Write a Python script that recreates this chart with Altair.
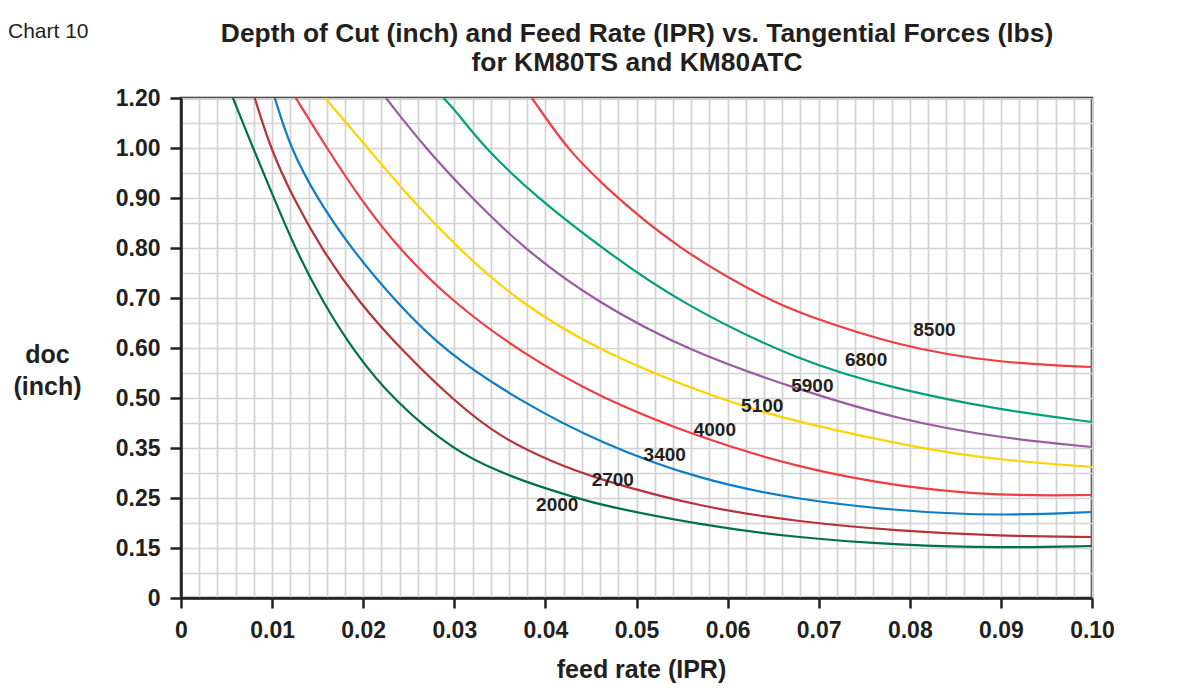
import altair as alt
import pandas as pd

# ---------------- data ----------------
doc_ticks = [0, 0.15, 0.25, 0.35, 0.50, 0.60, 0.70, 0.80, 0.90, 1.00, 1.20]
feed_ticks = [0, 0.01, 0.02, 0.03, 0.04, 0.05, 0.06, 0.07, 0.08, 0.09, 0.10]

forces = ["2000", "2700", "3400", "4000", "5100", "5900", "6800", "8500"]
colors = ["#006F4E", "#B7313A", "#0B7DC9", "#EF3E42", "#FFD200", "#9B59A6", "#00A07C", "#EF3E42"]

f2000_x = [0.0057, 0.0079, 0.0102, 0.0126, 0.0155, 0.0190, 0.0235, 0.0300, 0.0350, 0.0391, 0.0435, 0.0460, 0.0570, 0.0679, 0.0789, 0.0899, 0.1000]
f2000_y = [1.20, 1.00, 0.90, 0.796, 0.694, 0.592, 0.488, 0.344, 0.302, 0.274, 0.250, 0.236, 0.196, 0.170, 0.156, 0.150, 0.154]

f2700_x = [0.0081, 0.0098, 0.0123, 0.0155, 0.0194, 0.0244, 0.0301, 0.0350, 0.0405, 0.0460, 0.0570, 0.0679, 0.0789, 0.0899, 0.1000]
f2700_y = [1.20, 1.00, 0.90, 0.796, 0.694, 0.592, 0.488, 0.383, 0.324, 0.286, 0.232, 0.202, 0.184, 0.174, 0.172]

f3400_x = [0.0103, 0.0120, 0.0149, 0.0188, 0.0235, 0.0290, 0.0372, 0.0460, 0.0570, 0.0679, 0.0789, 0.0899, 0.1000]
f3400_y = [1.20, 1.00, 0.90, 0.796, 0.694, 0.592, 0.491, 0.365, 0.286, 0.246, 0.224, 0.214, 0.222]

f4000_x = [0.0126, 0.0160, 0.0196, 0.0240, 0.0297, 0.0372, 0.0460, 0.0570, 0.0679, 0.0789, 0.0899, 0.1000]
f4000_y = [1.20, 1.00, 0.90, 0.796, 0.694, 0.592, 0.500, 0.380, 0.310, 0.272, 0.254, 0.256]

f5100_x = [0.0158, 0.0205, 0.0251, 0.0306, 0.0369, 0.0460, 0.0592, 0.0679, 0.0819, 0.0899, 0.1000]
f5100_y = [1.20, 1.00, 0.90, 0.796, 0.694, 0.592, 0.494, 0.425, 0.346, 0.326, 0.312]

f5900_x = [0.0225, 0.0268, 0.0319, 0.0378, 0.0454, 0.0559, 0.0679, 0.0789, 0.0899, 0.1000]
f5900_y = [1.20, 1.00, 0.90, 0.796, 0.694, 0.592, 0.516, 0.434, 0.380, 0.353]

f6800_x = [0.0288, 0.0301, 0.0333, 0.0391, 0.0465, 0.0544, 0.0679, 0.0789, 0.0899, 0.1000]
f6800_y = [1.20, 1.152, 1.00, 0.90, 0.796, 0.694, 0.572, 0.516, 0.464, 0.428]

f8500_x = [0.0385, 0.0402, 0.0424, 0.0460, 0.0546, 0.0647, 0.0679, 0.0789, 0.0899, 0.1000]
f8500_y = [1.20, 1.112, 1.00, 0.93, 0.796, 0.694, 0.670, 0.602, 0.570, 0.562]

label_x = [0.0413, 0.0474, 0.0531, 0.0586, 0.0638, 0.0693, 0.0752, 0.0827]
label_y = [0.236, 0.286, 0.336, 0.404, 0.476, 0.524, 0.576, 0.636]

title_lines = ["Depth of Cut (inch) and Feed Rate (IPR) vs. Tangential Forces (lbs)", "for KM80TS and KM80ATC"]
chart_tag = ["Chart 10"]

# ---------------- tables ----------------
series = {
    "2000": (f2000_x, f2000_y), "2700": (f2700_x, f2700_y), "3400": (f3400_x, f3400_y),
    "4000": (f4000_x, f4000_y), "5100": (f5100_x, f5100_y), "5900": (f5900_x, f5900_y),
    "6800": (f6800_x, f6800_y), "8500": (f8500_x, f8500_y),
}
rows = []
for name in forces:
    xs, ys = series[name]
    for a, b in zip(xs, ys):
        rows.append({"force": name, "feed": a, "doc": b})
df = pd.DataFrame(rows)
df_labels = pd.DataFrame({"label": forces, "feed": label_x, "doc": label_y})

# grid positions: minor steps of the x axis, half steps of the y axis
feed_grid = [round(i * 0.002, 3) for i in range(51)]
doc_grid = sorted(set(doc_ticks + [(a + b) / 2 for a, b in zip(doc_ticks[:-1], doc_ticks[1:])]))

W, H = 911, 500
INK = "#231f20"
FONT = "Liberation Sans"

y_range = [H - H * i / (len(doc_ticks) - 1) for i in range(len(doc_ticks))]
x_scale = alt.Scale(domain=[0, 0.1], nice=False, zero=False)
y_scale = alt.Scale(domain=doc_ticks, range=y_range, nice=False, zero=False)

num_label = "datum.value == 0 ? '0' : format(datum.value, '.2f')"

lines = alt.Chart(df).mark_line(strokeWidth=2.2, interpolate="basis").encode(
    x=alt.X("feed:Q", scale=x_scale,
            axis=alt.Axis(orient="top", values=feed_grid, grid=True, labels=False, ticks=False,
                          domain=False, title=None, gridColor="#d2d2d2", gridWidth=1.7)),
    y=alt.Y("doc:Q", scale=y_scale,
            axis=alt.Axis(orient="right", values=doc_grid, grid=True, labels=False, ticks=False,
                          domain=False, title=None, gridColor="#d2d2d2", gridWidth=1.7)),
    color=alt.Color("force:N", scale=alt.Scale(domain=forces, range=colors), legend=None),
)

texts = alt.Chart(df_labels).mark_text(
    font=FONT, fontSize=19, fontWeight="bold", color=INK
).encode(
    x=alt.X("feed:Q", scale=x_scale,
            axis=alt.Axis(orient="bottom", values=feed_ticks, grid=False, labelExpr=num_label,
                          labelFont=FONT, labelFontSize=23, labelFontWeight="bold", labelColor=INK,
                          labelBaseline="top", labelPadding=11, labelFlush=False,
                          tickSize=10, tickColor=INK, tickWidth=2.5,
                          domainColor=INK, domainWidth=2.5,
                          title="feed rate (IPR)", titleFont=FONT, titleFontSize=25,
                          titleFontWeight="bold", titleColor=INK,
                          titleX=460, titleY=71, titleBaseline="middle", titleAnchor="middle")),
    y=alt.Y("doc:Q", scale=y_scale,
            axis=alt.Axis(orient="left", values=doc_ticks, grid=False, labelExpr=num_label,
                          labelFont=FONT, labelFontSize=23, labelFontWeight="bold", labelColor=INK,
                          labelBaseline="middle", labelPadding=10, labelFlush=False,
                          tickSize=11, tickColor=INK, tickWidth=2.5,
                          domainColor=INK, domainWidth=2.5,
                          title=["doc", "(inch)"], titleFont=FONT, titleFontSize=25,
                          titleFontWeight="bold", titleColor=INK, titleAngle=0,
                          titleAlign="center", titleBaseline="alphabetic",
                          titleX=-134, titleY=264, titleLineHeight=32)),
    text="label:N",
)

tag = alt.Chart(pd.DataFrame({"t": chart_tag})).mark_text(
    align="left", baseline="middle", font=FONT, fontSize=21, color=INK
).encode(x=alt.value(-173), y=alt.value(-66), text="t:N")

title1 = alt.Chart(pd.DataFrame({"t": title_lines[:1]})).mark_text(
    align="center", baseline="middle", font=FONT, fontSize=26.4, fontWeight="bold", color=INK
).encode(x=alt.value(456), y=alt.value(-64), text="t:N")

title2 = alt.Chart(pd.DataFrame({"t": title_lines[1:]})).mark_text(
    align="center", baseline="middle", font=FONT, fontSize=26.4, fontWeight="bold", color=INK
).encode(x=alt.value(456), y=alt.value(-35), text="t:N")

chart = alt.layer(lines, texts, tag, title1, title2).resolve_axis(
    x="independent", y="independent"
).properties(
    width=W, height=H,
    autosize=alt.AutoSizeParams(type="none"),
    padding={"left": 173, "top": 90, "right": 70, "bottom": 86},
).configure_view(stroke=INK, strokeWidth=2.5)

chart.save("out.html", embed_options={"renderer": "svg", "actions": False})
